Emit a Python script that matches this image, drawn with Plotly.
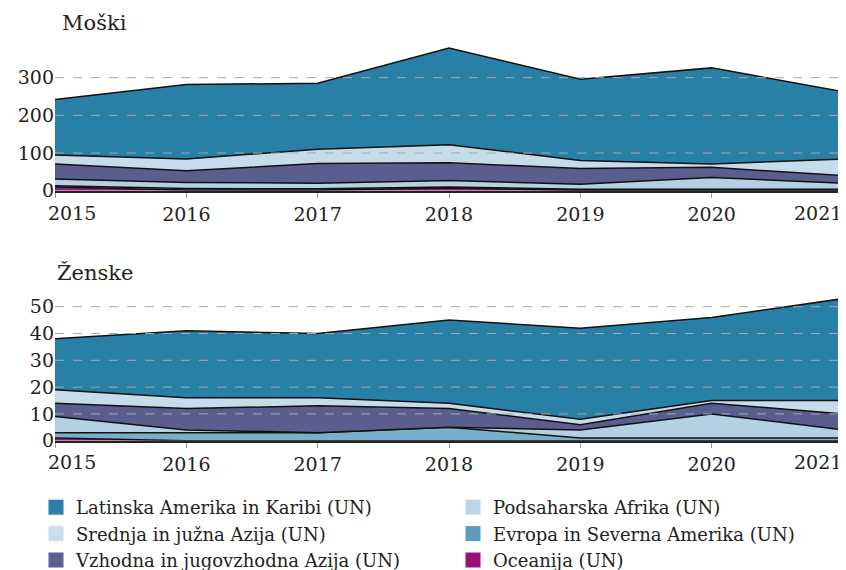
import plotly.graph_objects as go

years = [2015, 2016, 2017, 2018, 2019, 2020, 2021]
year_labels = ["2015", "2016", "2017", "2018", "2019", "2020", "2021"]

# Series names (stack order bottom -> top)
series_names = [
    "Oceanija (UN)",
    "Evropa in Severna Amerika (UN)",
    "Podsaharska Afrika (UN)",
    "Vzhodna in jugovzhodna Azija (UN)",
    "Srednja in južna Azija (UN)",
    "Latinska Amerika in Karibi (UN)",
]

# Moški values
m_oceanija = [10, 2, 2, 7, 1, 1, 1]
m_evropa = [3, 4, 3, 3, 3, 3, 3]
m_podsaharska = [18, 16, 15, 17, 13, 31, 16]
m_vzhodna = [40, 31, 52, 47, 42, 27, 20]
m_srednja = [24, 31, 38, 48, 21, 9, 44]
m_latinska = [147, 198, 175, 257, 216, 255, 179]

# Ženske values
z_oceanija = [1, 0, 0, 0, 0, 0, 0]
z_evropa = [2, 3, 3, 5, 1, 1, 1]
z_podsaharska = [6, 1, 0, 0, 3, 9, 3]
z_vzhodna = [5, 8, 10, 7, 2, 4, 6]
z_srednja = [5, 4, 3, 2, 2, 1, 5]
z_latinska = [19, 25, 24, 31, 34, 31, 38]

m_ticks = [0, 100, 200, 300]
z_ticks = [0, 10, 20, 30, 40, 50]

fill_colors = ["#99197a", "#7aafcb", "#b4d0e3", "#5a5e8f", "#c6dcea", "#2980a6"]
legend_colors = ["#9b1378", "#5b9bc0", "#bdd5e7", "#5a5e91", "#c8dded", "#2a80a8"]
legend_rank = [6, 4, 2, 5, 3, 1]

FONT = "'DejaVu Serif', serif"
NUMFONT = "'DejaVu Serif', serif"

m_data = [m_oceanija, m_evropa, m_podsaharska, m_vzhodna, m_srednja, m_latinska]
z_data = [z_oceanija, z_evropa, z_podsaharska, z_vzhodna, z_srednja, z_latinska]

fig = go.Figure()

for i, name in enumerate(series_names):
    fig.add_trace(go.Scatter(
        x=years, y=m_data[i], name=name, stackgroup="m", mode="lines",
        line=dict(color="#111111", width=1.5), fillcolor=fill_colors[i],
        showlegend=False, xaxis="x", yaxis="y", hoverinfo="x+y+name",
    ))
for i, name in enumerate(series_names):
    fig.add_trace(go.Scatter(
        x=years, y=z_data[i], name=name, stackgroup="z", mode="lines",
        line=dict(color="#111111", width=1.5), fillcolor=fill_colors[i],
        showlegend=False, xaxis="x2", yaxis="y2", hoverinfo="x+y+name",
    ))
for i, name in enumerate(series_names):
    fig.add_trace(go.Scatter(
        x=[None], y=[None], name=name, mode="markers",
        marker=dict(symbol="square", size=15, color=legend_colors[i]),
        legendrank=legend_rank[i], showlegend=True, xaxis="x", yaxis="y",
    ))

# middle tick labels via axis; end labels via annotations (shifted inside)
mid_text = [""] + year_labels[1:-1] + [""]
TICKFONT = dict(family=NUMFONT, size=19, color="#222222")

xaxis_common = dict(
    range=[2015, 2021], tickmode="array", tickvals=years, ticktext=mid_text,
    showline=True, linecolor="#222222", linewidth=2, ticks="outside",
    ticklen=5, tickcolor="#999999", showgrid=False, zeroline=False,
    tickfont=TICKFONT, fixedrange=True, automargin=False,
)
yaxis_common = dict(
    showline=False, ticks="", showgrid=False, zeroline=False,
    tickfont=TICKFONT, fixedrange=True, automargin=False,
)

# The page body has an 8px margin, so the figure is drawn 8px smaller and
# reference pixel positions are shifted by 8px.
OFF = 8
W, H = 846 - OFF, 570 - OFF
REF_L, REF_R = 55, 843
REF_PAPER_TOP, REF_PAPER_BOT = 10, 445
M_TOP, M_BOT = 40, 190.7
Z_TOP, Z_BOT = 293.3, 440.7
PH = REF_PAPER_BOT - REF_PAPER_TOP


def py(p):
    return (REF_PAPER_BOT - p) / PH


annotations = [
    dict(text="Moški", x=(60 - REF_L) / (REF_R - REF_L), y=py(23),
         xref="paper", yref="paper", showarrow=False, xanchor="left",
         yanchor="middle", font=dict(family=FONT, size=21, color="#222222")),
    dict(text="Ženske", x=0.0, y=py(273), xref="paper", yref="paper",
         showarrow=False, xanchor="left", yanchor="middle",
         font=dict(family=FONT, size=21, color="#222222")),
]
for xa, ypix in (("x", 213), ("x2", 462)):
    annotations.append(dict(text=year_labels[0], x=years[0], xref=xa,
                            y=py(ypix), yref="paper", showarrow=False,
                            xanchor="left", yanchor="middle", xshift=-9,
                            font=TICKFONT))
    annotations.append(dict(text=year_labels[-1], x=years[-1], xref=xa,
                            y=py(ypix), yref="paper", showarrow=False,
                            xanchor="right", yanchor="middle", xshift=1,
                            font=TICKFONT))

# dashed gridlines drawn above the filled areas (as in the reference)
shapes = []
for yref, ticks in (("y", m_ticks), ("y2", z_ticks)):
    for t in ticks:
        if t == 0:
            continue
        shapes.append(dict(type="line", xref="x domain" if yref == "y" else "x2 domain",
                           x0=0, x1=1, yref=yref, y0=t, y1=t, layer="above",
                           line=dict(color="#a8a8a8", width=1, dash="dash")))

fig.update_layout(
    width=W, height=H,
    margin=dict(l=REF_L - OFF, r=W - (REF_R - OFF), t=REF_PAPER_TOP - OFF,
                b=H - (REF_PAPER_BOT - OFF), autoexpand=False),
    paper_bgcolor="white", plot_bgcolor="white",
    font=dict(family=FONT, color="#222222"),
    xaxis=dict(domain=[0, 1], anchor="y", **xaxis_common),
    yaxis=dict(domain=[py(M_BOT), py(M_TOP)], range=[0, 400], tickvals=m_ticks,
               anchor="x", **yaxis_common),
    xaxis2=dict(domain=[0, 1], anchor="y2", **xaxis_common),
    yaxis2=dict(domain=[py(Z_BOT), py(Z_TOP)], range=[0, 55], tickvals=z_ticks,
                anchor="x2", **yaxis_common),
    legend=dict(
        orientation="h", x=(36 - REF_L) / (REF_R - REF_L), xanchor="left",
        y=py(489), yanchor="top",
        entrywidth=372, entrywidthmode="pixels", traceorder="normal",
        font=dict(family=FONT, size=18, color="#222222"),
        itemclick=False, itemdoubleclick=False, bgcolor="rgba(0,0,0,0)",
    ),
    annotations=annotations,
    shapes=shapes,
)

fig.write_html("out.html")
